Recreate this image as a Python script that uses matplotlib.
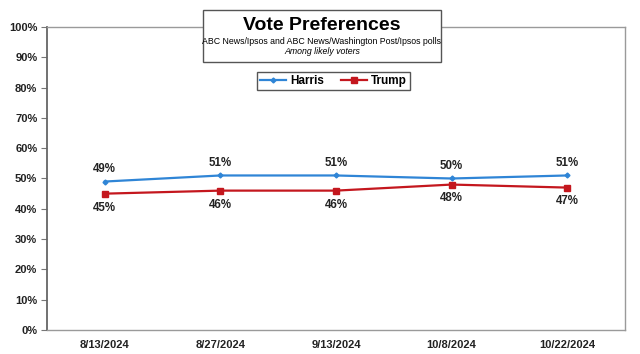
import matplotlib.pyplot as plt
from matplotlib.patches import Rectangle

plt.rcParams['font.family'] = ['Liberation Sans', 'DejaVu Sans']

dates = ['8/13/2024', '8/27/2024', '9/13/2024', '10/8/2024', '10/22/2024']
harris = [49, 51, 51, 50, 51]
trump = [45, 46, 46, 48, 47]

blue = '#2f85d6'
red = '#c4171e'

fig = plt.figure(figsize=(6.4, 3.54), dpi=100)
ax = fig.add_axes([47/640, 1-330/354, 578/640, 303/354])

x = range(len(dates))
ax.plot(x, harris, color=blue, lw=1.6, marker='D', ms=2.5, label='Harris')
ax.plot(x, trump, color=red, lw=1.6, marker='s', ms=4, label='Trump')

for i in x:
    ax.annotate(f'{harris[i]}%', (i, harris[i]), xytext=(0, 9), textcoords='offset points',
                ha='center', va='center', fontsize=8.3, fontweight='bold', color='#222222')
    ax.annotate(f'{trump[i]}%', (i, trump[i]), xytext=(0, -10), textcoords='offset points',
                ha='center', va='center', fontsize=8.3, fontweight='bold', color='#222222')

ax.set_xlim(-0.5, len(dates) - 0.5)
ax.set_ylim(0, 100)
ax.set_yticks(range(0, 101, 10))
ax.set_yticklabels([f'{v}%' for v in range(0, 101, 10)])
ax.set_xticks(list(x))
ax.set_xticklabels(dates)
for lab in ax.get_xticklabels() + ax.get_yticklabels():
    lab.set_fontweight('bold')
    lab.set_fontsize(8)
    lab.set_color('#222222')
ax.tick_params(axis='x', length=0, pad=7)
ax.tick_params(axis='y', length=4, color='#777777', pad=3)
for s in ax.spines.values():
    s.set_color('#9a9a9a')
    s.set_linewidth(1)
ax.spines['left'].set_color('#666666')
ax.spines['left'].set_linewidth(1.3)

# title box
fig.patches.append(Rectangle((203/640, 1-62/354), 238/640, 52/354, transform=fig.transFigure,
                             facecolor='white', edgecolor='#555555', lw=1, zorder=5))
fig.text(322/640, 1-26/354, 'Vote Preferences', ha='center', va='center', fontsize=14,
         fontweight='bold', zorder=6)
fig.text(322/640, 1-42/354, 'ABC News/Ipsos and ABC News/Washington Post/Ipsos polls',
         ha='center', va='center', fontsize=6.3, zorder=6)
fig.text(322/640, 1-51/354, 'Among likely voters', ha='center', va='center', fontsize=6.3,
         style='italic', zorder=6)

leg = ax.legend(loc='center', bbox_to_anchor=(333.5/640, 1-81/354), bbox_transform=fig.transFigure,
                ncol=2, fancybox=False, edgecolor='#555555', framealpha=1,
                prop={'weight': 'bold', 'size': 8.5}, handlelength=2.2, handletextpad=0.3,
                columnspacing=1.5, borderpad=0.25)
leg.get_frame().set_linewidth(1)

fig.savefig('out.png', dpi=100)
